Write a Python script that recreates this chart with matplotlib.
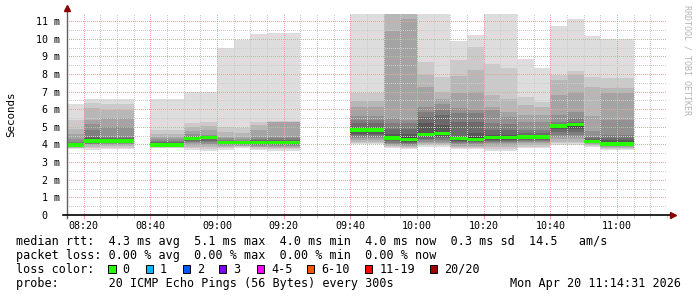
import matplotlib

matplotlib.use("Agg")
import matplotlib.pyplot as plt
from matplotlib.patches import Rectangle
from matplotlib.ticker import MultipleLocator, FuncFormatter

plt.rcParams["font.family"] = ["DejaVu Sans Mono", "DejaVu Sans"]

W, H = 697, 297

# 5-minute slots that hold data (slot start time)
slots = ["08:15", "08:20", "08:25", "08:30", "08:40", "08:45", "08:50", "08:55",
         "09:00", "09:05", "09:10", "09:15", "09:20", "09:40", "09:45", "09:50",
         "09:55", "10:00", "10:05", "10:10", "10:15", "10:20", "10:25", "10:30",
         "10:35", "10:40", "10:45", "10:50", "10:55", "11:00"]

# median rtt per slot, ms
medians = [3.97, 4.2, 4.2, 4.2, 3.97, 3.97, 4.35, 4.4, 4.12, 4.1, 4.12, 4.12, 4.12,
           4.82, 4.82, 4.37, 4.29, 4.57, 4.63, 4.33, 4.29, 4.38, 4.38, 4.42, 4.42,
           5.05, 5.14, 4.18, 4.03, 4.03]

# the 20 sorted ping rtts per slot, ms
pings = [
    [3.72, 3.78, 3.82, 3.86, 3.89, 3.91, 3.93, 3.94, 3.95, 3.96, 4.0, 4.02, 4.05, 4.1, 4.15, 4.3, 4.6, 4.9, 5.4, 6.3],
    [3.7, 3.8, 3.88, 3.95, 4.0, 4.05, 4.1, 4.13, 4.16, 4.18, 4.22, 4.28, 4.35, 4.45, 4.8, 5.15, 5.4, 6.05, 6.33, 6.58],
    [3.75, 3.82, 3.9, 3.96, 4.02, 4.07, 4.11, 4.14, 4.17, 4.19, 4.22, 4.27, 4.32, 4.38, 4.45, 5.0, 5.5, 5.95, 6.3, 6.58],
    [3.75, 3.82, 3.9, 3.96, 4.02, 4.07, 4.11, 4.14, 4.17, 4.19, 4.22, 4.27, 4.32, 4.38, 4.45, 5.0, 5.5, 5.95, 6.3, 6.58],
    [3.78, 3.82, 3.86, 3.89, 3.91, 3.93, 3.94, 3.95, 3.96, 3.97, 3.99, 4.02, 4.06, 4.12, 4.2, 4.3, 4.45, 4.62, 4.8, 6.58],
    [3.78, 3.82, 3.86, 3.89, 3.91, 3.93, 3.94, 3.95, 3.96, 3.97, 3.99, 4.02, 4.06, 4.12, 4.2, 4.3, 4.45, 4.62, 4.8, 6.58],
    [3.68, 3.78, 3.88, 3.98, 4.08, 4.15, 4.22, 4.27, 4.3, 4.33, 4.37, 4.4, 4.42, 4.45, 4.5, 4.6, 4.75, 5.0, 5.2, 7.0],
    [3.65, 3.75, 3.85, 3.95, 4.05, 4.15, 4.22, 4.3, 4.35, 4.38, 4.41, 4.43, 4.45, 4.47, 4.5, 4.55, 4.8, 5.05, 5.25, 7.0],
    [3.7, 3.78, 3.85, 3.9, 3.95, 4.0, 4.04, 4.07, 4.09, 4.11, 4.13, 4.15, 4.18, 4.22, 4.28, 4.35, 4.45, 4.72, 5.0, 9.5],
    [3.82, 3.86, 3.9, 3.94, 3.97, 4.0, 4.03, 4.05, 4.07, 4.09, 4.11, 4.12, 4.14, 4.17, 4.22, 4.3, 4.4, 4.63, 4.95, 9.92],
    [3.7, 3.77, 3.83, 3.88, 3.93, 3.98, 4.02, 4.06, 4.09, 4.11, 4.14, 4.16, 4.2, 4.24, 4.3, 4.4, 4.8, 5.1, 5.3, 10.27],
    [3.65, 3.72, 3.8, 3.86, 3.92, 3.97, 4.01, 4.05, 4.08, 4.1, 4.14, 4.17, 4.22, 4.28, 4.35, 4.45, 5.25, 5.3, 5.35, 10.32],
    [3.65, 3.72, 3.8, 3.86, 3.92, 3.97, 4.01, 4.05, 4.08, 4.1, 4.14, 4.17, 4.22, 4.28, 4.35, 4.45, 5.25, 5.3, 5.35, 10.32],
    [4.0, 4.06, 4.15, 4.25, 4.35, 4.45, 4.55, 4.62, 4.7, 4.78, 4.85, 4.88, 4.91, 5.23, 5.4, 5.61, 6.14, 6.48, 6.93, 11.6],
    [4.0, 4.06, 4.15, 4.25, 4.35, 4.45, 4.55, 4.62, 4.7, 4.78, 4.85, 4.88, 4.91, 5.23, 5.4, 5.61, 6.14, 6.48, 6.93, 11.6],
    [3.78, 3.85, 3.92, 3.98, 4.04, 4.1, 4.18, 4.25, 4.3, 4.34, 4.4, 4.45, 4.6, 4.9, 5.2, 5.48, 10.45, 11.6, 11.6, 11.6],
    [3.74, 3.8, 3.86, 3.92, 3.98, 4.04, 4.1, 4.16, 4.22, 4.26, 4.32, 4.4, 4.6, 4.9, 5.2, 5.39, 11.1, 11.6, 11.6, 11.6],
    [3.87, 3.95, 4.02, 4.08, 4.16, 4.25, 4.33, 4.42, 4.5, 4.55, 4.6, 4.67, 5.2, 5.57, 5.86, 6.14, 7.27, 7.94, 8.69, 11.6],
    [3.87, 3.95, 4.02, 4.08, 4.16, 4.25, 4.35, 4.45, 4.55, 4.6, 4.66, 4.72, 5.1, 5.67, 5.95, 6.29, 6.56, 6.99, 7.85, 11.6],
    [3.72, 3.8, 3.87, 3.93, 4.0, 4.08, 4.15, 4.22, 4.27, 4.3, 4.36, 4.4, 4.45, 5.3, 5.76, 6.05, 6.9, 7.88, 8.79, 9.86],
    [3.72, 3.8, 3.87, 3.93, 4.0, 4.06, 4.12, 4.18, 4.23, 4.26, 4.32, 4.4, 4.63, 5.29, 5.76, 5.95, 6.99, 8.22, 9.55, 10.2],
    [3.63, 3.75, 3.88, 3.98, 4.06, 4.14, 4.2, 4.26, 4.31, 4.35, 4.41, 4.48, 4.55, 4.8, 5.2, 5.95, 6.14, 6.8, 8.56, 11.6],
    [3.63, 3.75, 3.88, 3.98, 4.06, 4.14, 4.2, 4.26, 4.31, 4.35, 4.41, 4.48, 4.55, 4.8, 5.16, 5.54, 5.86, 6.56, 8.31, 11.6],
    [3.78, 3.87, 3.96, 4.06, 4.15, 4.22, 4.28, 4.33, 4.37, 4.4, 4.45, 4.5, 4.55, 4.65, 4.82, 5.3, 5.67, 6.24, 6.67, 8.82],
    [3.78, 3.87, 3.96, 4.06, 4.15, 4.22, 4.28, 4.33, 4.37, 4.4, 4.45, 4.5, 4.55, 4.65, 4.82, 5.3, 5.67, 6.14, 6.43, 8.31],
    [3.97, 4.06, 4.15, 4.3, 4.45, 4.54, 4.7, 4.85, 4.95, 5.02, 5.06, 5.08, 5.1, 5.15, 5.29, 5.67, 6.8, 7.65, 7.94, 10.71],
    [3.97, 4.06, 4.15, 4.3, 4.45, 4.54, 4.7, 4.85, 4.98, 5.1, 5.16, 5.18, 5.22, 5.3, 5.48, 5.86, 6.99, 7.94, 8.18, 11.1],
    [3.88, 3.93, 3.98, 4.03, 4.07, 4.1, 4.13, 4.15, 4.17, 4.19, 4.21, 4.24, 4.28, 4.35, 4.45, 4.76, 5.61, 7.24, 7.8, 10.15],
    [3.69, 3.76, 3.82, 3.88, 3.92, 3.95, 3.97, 3.99, 4.0, 4.02, 4.06, 4.12, 4.25, 4.39, 4.54, 5.39, 6.9, 7.18, 7.75, 10.0],
    [3.69, 3.76, 3.82, 3.88, 3.92, 3.95, 3.97, 3.99, 4.0, 4.02, 4.06, 4.12, 4.25, 4.39, 4.54, 5.39, 6.9, 7.18, 7.75, 10.0],
]

rtt_stats = [("4.3", "avg"), ("5.1", "max"), ("4.0", "min"), ("4.0", "now"), ("0.3", "sd")]
am_per_s = "14.5"
loss_stats = [("0.00", "avg"), ("0.00", "max"), ("0.00", "min"), ("0.00", "now")]
loss_labels = ["0", "1", "2", "3", "4-5", "6-10", "11-19", "20/20"]
loss_colors = ["#26ff00", "#00b8ff", "#0059ff", "#7e00ff", "#ff00ff", "#ff5500", "#ff0000", "#a00000"]
probe = "20 ICMP Echo Pings (56 Bytes) every 300s"
stamp = "Mon Apr 20 11:14:31 2026"


def minutes(s):
    h, m = s.split(":")
    return int(h) * 60 + int(m)


def fx(px):
    return px / W


def fy(py):
    return 1 - py / H


x0 = [minutes(s) for s in slots]

fig = plt.figure(figsize=(W / 100, H / 100), dpi=100)
fig.patch.set_facecolor("white")
# whole-pixel axes box so the 1px dotted grid lands on pixel centres
ax = fig.add_axes([fx(67), fy(215), 600 / W, 201 / H])
ax.set_xlim(minutes("08:15"), minutes("11:15"))
ax.set_ylim(0, 11.4)

# smoke: band i spans ping i .. ping 21-i, darker towards the middle
half = 10
for ib in range(1, half + 1):
    g = int(190 / half * (half - ib)) + 50
    shade = "#%02x%02x%02x" % (g, g, g)
    lo = [p[ib - 1] for p in pings]
    hi = [p[20 - ib] for p in pings]
    ax.bar(x0, [h - l for h, l in zip(hi, lo)], bottom=lo, width=5, align="edge",
           color=shade, lw=0, zorder=1)

# median, coloured by packet loss (all 0 here)
mw = 0.19
ax.bar(x0, mw, bottom=[m - mw / 2 for m in medians], width=5, align="edge",
       color=loss_colors[0], lw=0, zorder=3)

ax.xaxis.set_major_locator(MultipleLocator(20))
ax.xaxis.set_minor_locator(MultipleLocator(5))
ax.yaxis.set_major_locator(MultipleLocator(1))
ax.yaxis.set_minor_locator(MultipleLocator(0.5))
ax.xaxis.set_major_formatter(FuncFormatter(lambda v, _: "%02d:%02d" % (int(v) // 60, int(v) % 60)))
ax.yaxis.set_major_formatter(FuncFormatter(lambda v, _: "0  " if v == 0 else "%d m" % v))

# dotted 1px grid; half-pixel dash offset because snapping puts the ends on pixel centres
ax.set_axisbelow(False)
ax.grid(which="major", color="#f0a0a0", ls=(0.5, (1, 1)), lw=0.72)
ax.grid(which="minor", color="#cccccc", ls=(0.5, (1, 1)), lw=0.72)
for s in ax.spines.values():
    s.set_visible(False)
ax.tick_params(axis="y", which="both", length=0, labelsize=7.2, pad=5)
ax.tick_params(axis="x", which="major", direction="out", length=3, width=0.7,
               color="#f0a0a0", labelsize=7.2, pad=1.5)
ax.tick_params(axis="x", which="minor", direction="out", length=2, width=0.7, color="#cccccc")

# axis lines with arrows
ax.plot([0, 0], [-3 / 201, 1 + 4 / 201], transform=ax.transAxes, color="#606060",
        lw=1.0, clip_on=False, zorder=4)
ax.plot([-4 / 600, 1 + 3 / 600], [0, 0], transform=ax.transAxes, color="black",
        lw=1.2, clip_on=False, zorder=4)
ax.plot([0], [1 + 6 / 201], marker="^", ms=4, color="#8b0000", transform=ax.transAxes,
        clip_on=False, zorder=5)
ax.plot([1 + 6 / 600], [0], marker=">", ms=4, color="#8b0000", transform=ax.transAxes,
        clip_on=False, zorder=5)

fig.text(fx(11), fy(114.5), "Seconds", rotation=90, ha="center", va="center", fontsize=7.8)
fig.text(fx(687.5), fy(60), "RRDTOOL / TOBI OETIKER", rotation=270, ha="center", va="center",
         fontsize=6, color="#b4b4b4")

# legend block
fs = 8.5
row1 = "median rtt:  " + "  ".join("%s ms %s" % v for v in rtt_stats) + "  %s   am/s" % am_per_s
row2 = "packet loss: " + "  ".join("%s %% %s" % v for v in loss_stats)
row4 = "probe:       " + probe
fig.text(fx(15.5), fy(241.5), row1, ha="left", va="center", fontsize=fs)
fig.text(fx(15.5), fy(255.3), row2, ha="left", va="center", fontsize=fs)
fig.text(fx(15.5), fy(269.3), "loss color:", ha="left", va="center", fontsize=fs)
fig.text(fx(15.5), fy(283.3), row4, ha="left", va="center", fontsize=fs)
fig.text(fx(681), fy(283.3), stamp, ha="right", va="center", fontsize=fs)

box_x = [108.3, 145.7, 182.7, 219, 256.7, 306.7, 365, 430]
for bx, lab, c in zip(box_x, loss_labels, loss_colors):
    fig.patches.append(Rectangle((fx(bx), fy(273.3)), 7.4 / W, 8 / H, transform=fig.transFigure,
                                 facecolor=c, edgecolor="black", lw=0.7))
    fig.text(fx(bx + 14.2), fy(269.3), lab, ha="left", va="center", fontsize=fs)

fig.savefig("out.png", dpi=100)
